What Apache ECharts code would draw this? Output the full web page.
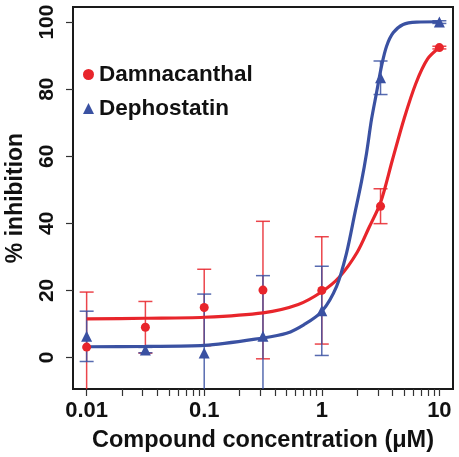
<!DOCTYPE html>
<html>
<head>
<meta charset="utf-8">
<script src="https://cdn.jsdelivr.net/npm/echarts@6/dist/echarts.min.js"></script>
<style>
html,body{margin:0;padding:0;background:#fff;}
#chart{width:459px;height:457px;}
</style>
</head>
<body>
<div id="chart"></div>
<script>
// ---- data ----
const concentrations = [0.01, 0.0316, 0.1, 0.316, 1, 3.16, 10];   // µM
const damnaMean = [3.1, 9.0, 14.9, 20.1, 20.0, 45.1, 92.4];
const damnaErr  = [16.4, 7.7, 11.4, 20.5, 16.0, 5.2, 0.4];
const dephoMean = [6.3, 2.2, 1.3, 6.3, 13.9, 83.4, 100.0];
const dephoErr  = [7.5, 0.8, 17.6, 18.1, 13.3, 5.0, 0.4];

// fitted curves (x as log10 of concentration)
const damnaCurveLogX = [-2, -1.5, -1, -0.5, -0.2, 0, 0.15, 0.3, 0.4, 0.5, 0.6, 0.7, 0.8, 0.9, 1.0];
const damnaCurveY    = [11.5, 11.7, 12.0, 13.3, 15.8, 19.6, 24.0, 31.3, 38.6, 46.2, 58.8, 71.2, 81.7, 89.0, 92.4];
const dephoCurveLogX = [-2, -1.5, -1, -0.5, -0.3, -0.15, 0, 0.126, 0.211, 0.282, 0.338, 0.381, 0.423, 0.466, 0.509, 0.551, 0.607, 0.692, 0.806, 1.0];
const dephoCurveY    = [3.2, 3.3, 3.6, 5.8, 7.2, 9.8, 13.7, 21.2, 31.2, 43.1, 52.5, 61.0, 71.0, 79.0, 87.0, 92.8, 96.8, 99.3, 100.0, 100.1];

const xTickValues = [0.01, 0.1, 1, 10];
const xTickLabels = ['0.01', '0.1', '1', '10'];
const yTickValues = [0, 20, 40, 60, 80, 100];

const seriesNames = ['Damnacanthal', 'Dephostatin'];
const xTitle = 'Compound concentration (\u03BCM)';
const yTitle = '% inhibition';

// ---- styling ----
const RED = '#e8252b';
const BLUE = '#3a51a2';
const FONT = 'Liberation Sans, Arial, sans-serif';

const lg = v => Math.log10(v);
const xMinorTicks = [];
[0.01, 0.1, 1].forEach(d => { for (let k = 1; k <= 9; k++) xMinorTicks.push(lg(d * k)); });
xMinorTicks.push(lg(10));

function pts(xs, ys) { return xs.map((x, i) => [lg(x), ys[i]]); }
function curve(lx, ys) { return lx.map((x, i) => [x, ys[i]]); }
function errData(xs, m, e) { return xs.map((x, i) => [lg(x), m[i] - e[i], m[i] + e[i]]); }

function errRender(color) {
  return function (params, api) {
    const x = api.value(0), lo = api.value(1), hi = api.value(2);
    const pLo = api.coord([x, lo]);
    const pHi = api.coord([x, hi]);
    const hw = 7;
    const style = { stroke: color, lineWidth: 1.5, opacity: 0.85 };
    return {
      type: 'group',
      children: [
        { type: 'line', shape: { x1: pLo[0], y1: pLo[1], x2: pHi[0], y2: pHi[1] }, style: style },
        { type: 'line', shape: { x1: pHi[0] - hw, y1: pHi[1], x2: pHi[0] + hw, y2: pHi[1] }, style: style },
        { type: 'line', shape: { x1: pLo[0] - hw, y1: pLo[1], x2: pLo[0] + hw, y2: pLo[1] }, style: style }
      ]
    };
  };
}

const chart = echarts.init(document.getElementById('chart'), null, { renderer: 'canvas' });
chart.setOption({
  animation: false,
  backgroundColor: '#ffffff',
  grid: {
    left: 73, top: 7, right: 6, bottom: 68, containLabel: false, outerBoundsMode: 'none',
    show: true, borderColor: '#1a1a1a', borderWidth: 2, backgroundColor: 'transparent'
  },
  legend: {
    data: [
      { name: seriesNames[0], icon: 'circle' },
      { name: seriesNames[1], icon: 'triangle' }
    ],
    orient: 'vertical',
    left: 78, top: 58,
    itemWidth: 11, itemHeight: 11, itemGap: 11,
    textStyle: { fontFamily: FONT, fontWeight: 'bold', fontSize: 22.5, color: '#111' }
  },
  xAxis: {
    type: 'value',
    min: -2.116, max: 1.116,
    name: xTitle, nameLocation: 'middle', nameGap: 40,
    nameTextStyle: { fontFamily: FONT, fontWeight: 'bold', fontSize: 23.5, color: '#111' },
    axisLine: { show: true, onZero: false, lineStyle: { color: '#1a1a1a', width: 2 } },
    axisTick: { show: true, inside: false, length: 7, customValues: xMinorTicks, lineStyle: { color: '#333', width: 1.2 } },
    axisLabel: {
      customValues: xTickValues.map(lg), margin: 11,
      fontFamily: FONT, fontWeight: 'bold', fontSize: 22, color: '#111',
      formatter: function (v) {
        let best = 0;
        xTickValues.forEach((t, i) => { if (Math.abs(lg(t) - v) < Math.abs(lg(xTickValues[best]) - v)) best = i; });
        return xTickLabels[best];
      }
    },
    splitLine: { show: false }
  },
  yAxis: {
    type: 'value',
    min: -9.4, max: 104.5,
    name: yTitle, nameLocation: 'middle', nameGap: 46,
    nameTextStyle: { fontFamily: FONT, fontWeight: 'bold', fontSize: 23, color: '#111' },
    axisLine: { show: true, onZero: false, lineStyle: { color: '#1a1a1a', width: 2 } },
    axisTick: { show: true, length: 7, customValues: yTickValues, lineStyle: { color: '#333', width: 1.2 } },
    axisLabel: {
      customValues: yTickValues, rotate: 90, margin: 15,
      fontFamily: FONT, fontWeight: 'bold', fontSize: 21, color: '#111'
    },
    splitLine: { show: false }
  },
  series: [
    {
      name: 'damnaErr', type: 'custom', clip: true, z: 2,
      renderItem: errRender(RED), data: errData(concentrations, damnaMean, damnaErr)
    },
    {
      name: 'dephoErr', type: 'custom', clip: true, z: 2,
      renderItem: errRender(BLUE), data: errData(concentrations, dephoMean, dephoErr)
    },
    {
      name: 'damnaCurve', type: 'line', smooth: 0.3, showSymbol: false, z: 3,
      lineStyle: { color: RED, width: 3.2 }, data: curve(damnaCurveLogX, damnaCurveY)
    },
    {
      name: 'dephoCurve', type: 'line', smooth: 0.3, showSymbol: false, z: 3,
      lineStyle: { color: BLUE, width: 3.2 }, data: curve(dephoCurveLogX, dephoCurveY)
    },
    {
      name: seriesNames[0], type: 'scatter', symbol: 'circle', symbolSize: 9, z: 4,
      itemStyle: { color: RED, opacity: 1 }, data: pts(concentrations, damnaMean)
    },
    {
      name: seriesNames[1], type: 'scatter', symbol: 'triangle', symbolSize: 11, z: 4,
      itemStyle: { color: BLUE, opacity: 1 }, data: pts(concentrations, dephoMean)
    }
  ]
});
</script>
</body>
</html>
